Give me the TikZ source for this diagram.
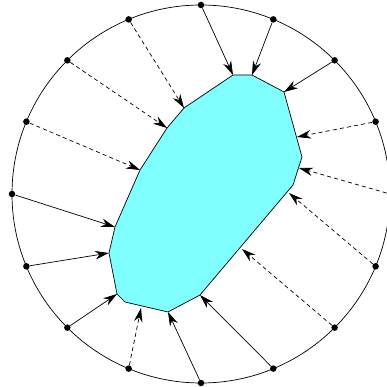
\documentclass[tikz,border=0pt]{standalone}
\usetikzlibrary{arrows.meta}
\definecolor{bodycyan}{RGB}{128,255,255}
\tikzset{
  ray/.style={-{Stealth[length=2.8mm,width=1.7mm]}},
  hidden/.style={ray, dash pattern=on 2.3pt off 1.8pt},
  dot/.style={circle, fill, inner sep=0pt, minimum size=1.3mm}
}
\begin{document}
\begin{tikzpicture}
    \useasboundingbox (-4.02,-3.86) rectangle (3.72,3.88);
    % Body
    \coordinate (p1) at (0.64,2.38);
    \coordinate (p2) at (1.02,2.38);
    \coordinate (p3) at (1.66,2.04);
    \coordinate (p4) at (2.02,0.74);
    \coordinate (p5) at (1.84,0.18);
    \coordinate (p6) at (-0.02,-2.02);
    \coordinate (p7) at (-0.66,-2.36);
    \coordinate (p8) at (-1.52,-2.16);
    \coordinate (p9) at (-1.68,-2.00);
    \coordinate (p10) at (-1.84,-1.18);
    \coordinate (p11) at (-1.72,-0.66);
    \coordinate (p12) at (-1.22,0.48);
    \coordinate (p13) at (-0.68,1.32);
    \coordinate (p14) at (-0.34,1.72);
    \filldraw[fill=bodycyan] (p1) -- (p2) -- (p3) -- (p4) -- (p5) -- (p6) -- (p7)
        -- (p8) -- (p9) -- (p10) -- (p11) -- (p12) -- (p13) -- (p14) -- cycle;
    % Points on the body edges
    \coordinate (e4) at (1.92,1.14);
    \coordinate (e5) at (1.96,0.52);
    \coordinate (e6) at (1.76,0.02);
    \coordinate (e7) at (0.82,-1.10);
    \coordinate (e10) at (-1.20,-2.28);
    % Circle
    \node[circle, draw, minimum size=7.56cm, inner sep=0pt] (ring) at (0,0) {};
    \foreach \i in {1,...,16}
        \node[dot] (c\i) at ({112.5-22.5*\i}:3.78) {};
    % Solid arrows
    \draw[ray] (c1) -- (p1);
    \draw[ray] (c2) -- (p2);
    \draw[ray] (c3) -- (p3);
    \draw[ray] (c8) -- (p6);
    \draw[ray] (c9) -- (p7);
    \draw[ray] (c11) -- (p9);
    \draw[ray] (c12) -- (p10);
    \draw[ray] (c13) -- (p11);
    % Dashed arrows
    \draw[hidden] (c4) -- (e4);
    \draw[hidden] (c5) -- (e5);
    \draw[hidden] (c6) -- (e6);
    \draw[hidden] (c7) -- (e7);
    \draw[hidden] (c10) -- (e10);
    \draw[hidden] (c14) -- (p12);
    \draw[hidden] (c15) -- (p13);
    \draw[hidden] (c16) -- (p14);
\end{tikzpicture}
\end{document}
